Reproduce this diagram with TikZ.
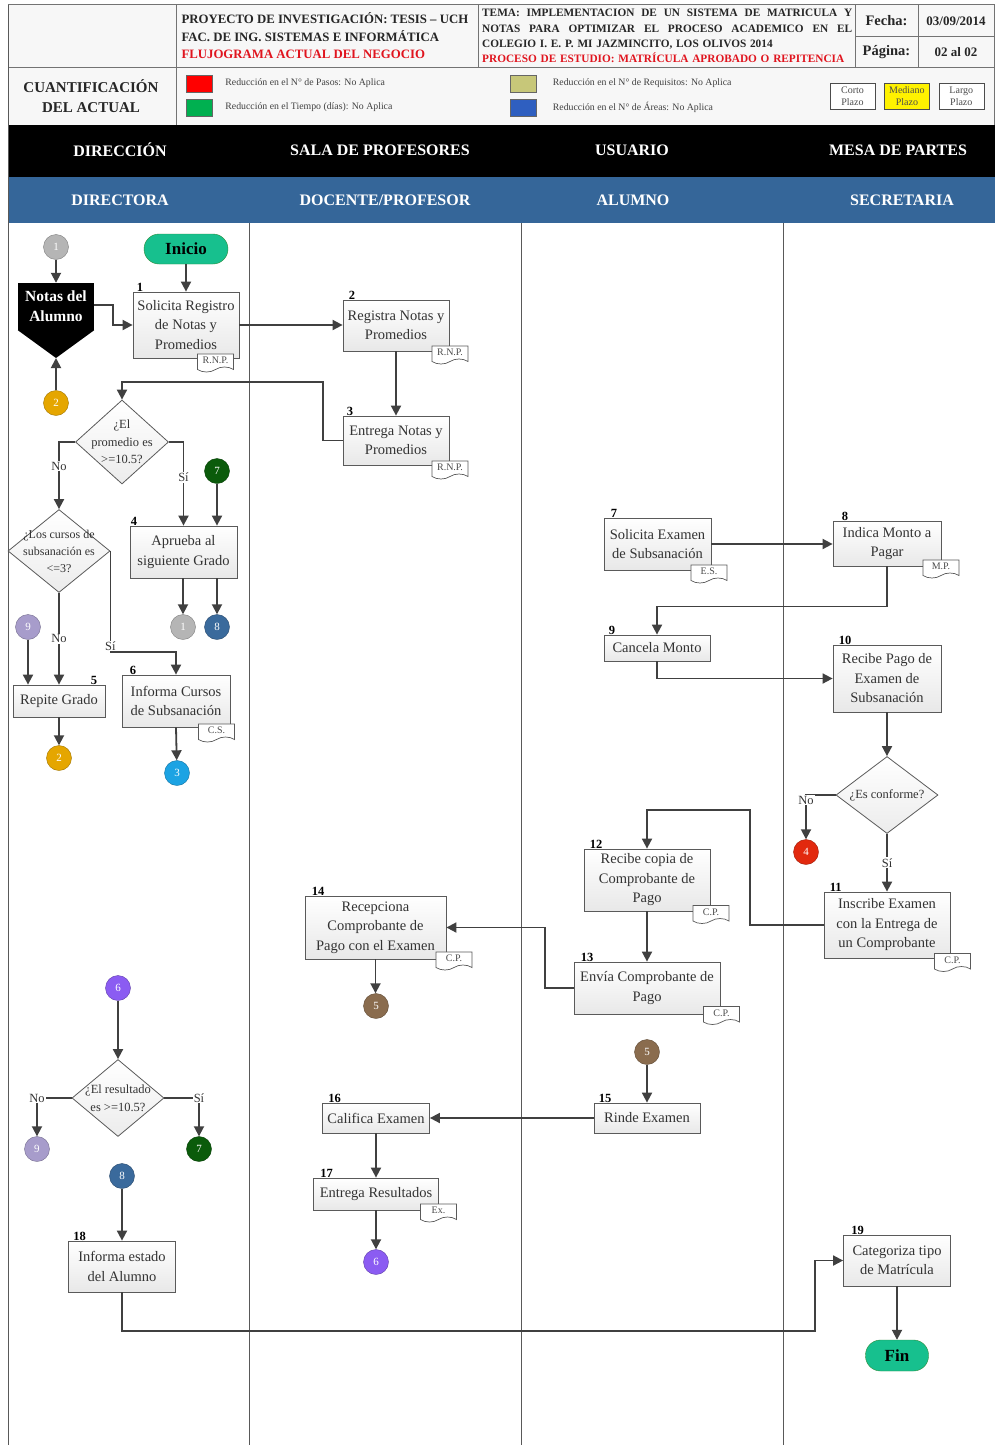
\documentclass[tikz,border=0pt]{standalone}
\usepackage{fontspec}
\setmainfont{Liberation Serif}
\usetikzlibrary{positioning,shapes.geometric,shapes.symbols,arrows.meta}

\definecolor{linegray}{HTML}{404040}
\definecolor{boxline}{HTML}{5A5A5A}
\definecolor{titlered}{HTML}{E0141E}
\definecolor{bandblue}{HTML}{356699}
\definecolor{termgreen}{HTML}{17C08E}
\definecolor{termline}{HTML}{2E8B3A}
\definecolor{kgray}{HTML}{B5B5B5}
\definecolor{korange}{HTML}{E5A600}
\definecolor{kcyan}{HTML}{1CA3E3}
\definecolor{kred}{HTML}{E2290E}
\definecolor{kbrown}{HTML}{8A6C4E}
\definecolor{kpurple}{HTML}{8B5CF2}
\definecolor{kgreen}{HTML}{0B5B0B}
\definecolor{kblue}{HTML}{3A6A9C}
\definecolor{klilac}{HTML}{A79CCB}
\definecolor{legred}{HTML}{FF0000}
\definecolor{leggreen}{HTML}{00B050}
\definecolor{legolive}{HTML}{C7C779}
\definecolor{legblue}{HTML}{2F5FC0}

\newcommand{\fsz}[2]{\fontsize{#1}{#2}\selectfont}
\newcommand{\jline}[1]{\makebox[370pt][s]{\spaceskip=0.3em plus 1fil\relax #1}}

\begin{document}
\begin{tikzpicture}[x=1pt, y=-1pt,
    >={Triangle[length=10pt, width=10pt]},
    proc/.style={rectangle, draw=boxline, line width=0.8pt, top color=white, bottom color=gray!18,
        align=center, inner sep=1pt, font=\fsz{14.5}{19.5}, text=black!80},
    dec/.style={diamond, draw=boxline, line width=0.8pt, top color=white, bottom color=gray!15,
        inner sep=0pt},
    dtext/.style={align=center, font=\fsz{12.5}{17.5}, text=black!80, inner sep=0pt},
    term/.style={rectangle, rounded corners=15pt, draw=termline, fill=termgreen, minimum height=30,
        font=\bfseries\fsz{17}{19}},
    conn/.style={circle, draw=#1!70!black, fill=#1, minimum size=25, inner sep=0pt,
        text=white, font=\fsz{11}{11}},
    doc/.style={tape, tape bend top=none, tape bend height=5pt, draw=boxline, line width=0.7pt,
        fill=white, minimum width=36, minimum height=18, inner sep=1pt, font=\fsz{10}{10},
        text=black!70},
    num/.style={font=\bfseries\fsz{12.5}{12.5}, inner sep=0pt},
    lbl/.style={fill=white, inner sep=1pt, font=\fsz{12.5}{13}, text=black!80},
    flow/.style={->, draw=linegray, line width=1.8pt},
    lane/.style={draw=black!65, line width=1pt},
    band/.style={text=white, font=\bfseries\fsz{16}{18}},
    hcell/.style={draw=black!55, line width=1pt},
    sq/.style={draw=black!60, minimum width=26, minimum height=17, inner sep=0pt},
    legtxt/.style={font=\fsz{9.8}{11}, text=black!75, inner sep=0pt},
    plazo/.style={draw=black!70, minimum width=45, minimum height=26, inner sep=0pt, align=center,
        font=\fsz{10}{12}, text=black!70}
]
\useasboundingbox (0,0) rectangle (995,1445);
\fill[white] (0,0) rectangle (995,1445);

% cabecera
\fill[gray!6] (8,5) rectangle (994,125);
\draw[hcell] (8,5) rectangle (994,125);
\draw[hcell] (8,68) -- (994,68);
\draw[hcell] (176,5) -- (176,125);
\draw[hcell] (478,5) -- (478,68);
\draw[hcell] (855,5) -- (855,68);
\draw[hcell] (918,5) -- (918,68);
\draw[hcell] (855,37) -- (994,37);

\node[anchor=west, align=left, font=\bfseries\fsz{12.8}{17.5}, text=black!85] (proj) at (178,36)
    {PROYECTO DE INVESTIGACIÓN: TESIS – UCH\\FAC. DE ING. SISTEMAS E INFORMÁTICA\\
     \textcolor{titlered}{FLUJOGRAMA ACTUAL DEL NEGOCIO}};
\node[anchor=west, text width=370pt, align=left, inner sep=0pt, font=\bfseries\fsz{11.3}{15.3},
    text=black!85] (tema) at (482,36)
    {\jline{TEMA: IMPLEMENTACION DE UN SISTEMA DE MATRICULA Y}\\
     \jline{NOTAS PARA OPTIMIZAR EL PROCESO ACADEMICO EN EL}\\
     COLEGIO I. E. P. MI JAZMINCITO, LOS OLIVOS 2014\\
     \textcolor{titlered}{PROCESO DE ESTUDIO: MATRÍCULA APROBADO O REPITENCIA}};
\node[font=\bfseries\fsz{14.5}{15}, text=black!85] (fecha) at (886.5,21) {Fecha:};
\node[font=\bfseries\fsz{13}{15}, text=black!85] (fechav) at (956,21) {03/09/2014};
\node[font=\bfseries\fsz{14.5}{15}, text=black!85] (pag) at (886.5,52) {Página:};
\node[font=\bfseries\fsz{13}{15}, text=black!85] (pagv) at (956,52) {02 al 02};
\node[align=center, font=\bfseries\fsz{15}{20}, text=black!85] (cuant) at (91,96)
    {CUANTIFICACIÓN\\DEL ACTUAL};

\node[sq, fill=legred] (sq1) at (199,83.5) {};
\node[sq, fill=leggreen] (sq2) at (199,107.5) {};
\node[sq, fill=legolive] (sq3) at (523.5,83.5) {};
\node[sq, fill=legblue] (sq4) at (523.5,107.5) {};
\node[legtxt, right=13pt of sq1] (lg1) {Reducción en el N° de Pasos: No Aplica};
\node[legtxt, right=13pt of sq2] (lg2) {Reducción en el Tiempo (días): No Aplica};
\node[legtxt, right=16pt of sq3] (lg3) {Reducción en el N° de Requisitos: No Aplica};
\node[legtxt, right=16pt of sq4] (lg4) {Reducción en el N° de Áreas: No Aplica};
\node[plazo, fill=white] (corto) at (852.5,96) {Corto\\Plazo};
\node[plazo, fill=yellow, right=9pt of corto] (mediano) {Mediano\\Plazo};
\node[plazo, fill=white, right=9pt of mediano] (largo) {Largo\\Plazo};

% carriles
\fill[black] (8,125) rectangle (995,177);
\fill[bandblue] (8,177) rectangle (995,223);
\node[band] (h1) at (120,150) {DIRECCIÓN};
\node[band] (h2) at (380,150) {SALA DE PROFESORES};
\node[band] (h3) at (632,150) {USUARIO};
\node[band] (h4) at (898,150) {MESA DE PARTES};
\node[band] (r1) at (120,200) {DIRECTORA};
\node[band] (r2) at (385,200) {DOCENTE/PROFESOR};
\node[band] (r3) at (633,200) {ALUMNO};
\node[band] (r4) at (902,200) {SECRETARIA};
\draw[lane] (8,5) -- (8,1445);
\draw[lane] (249,223) -- (249,1445);
\draw[lane] (521,223) -- (521,1445);
\draw[lane] (783,223) -- (783,1445);

% nodos
\node[term, minimum width=84] (inicio) at (186,249) {Inicio};
\node[conn=kgray] (c1a) at (56,247) {1};
\node[rectangle, fill=black, minimum width=76, minimum height=47, inner sep=0pt, align=center,
    text=white, font=\bfseries\fsz{15.5}{20}] (notas) at (56,306.5) {Notas del\\Alumno};
\coordinate (ntip) at (56,358);
\fill[black] (notas.south west) -- (ntip) -- (notas.south east) -- cycle;
\node[conn=korange] (c2a) at (56,403) {2};

\node[proc, minimum width=106, minimum height=66] (p1) at (186,325) {Solicita Registro\\de Notas y\\Promedios};
\node[proc, minimum width=106, minimum height=51] (p2) at (396,325.5) {Registra Notas y\\Promedios};
\node[proc, minimum width=106, minimum height=49] (p3) at (396,440.5) {Entrega Notas y\\Promedios};
\node[proc, minimum width=107, minimum height=52] (p4) at (183.5,552) {Aprueba al\\siguiente Grado};
\node[proc, minimum width=92, minimum height=32] (p5) at (59,701) {Repite Grado};
\node[proc, minimum width=108, minimum height=52] (p6) at (176,701) {Informa Cursos\\de Subsanación};
\node[proc, minimum width=107, minimum height=52] (p7) at (657.5,544) {Solicita Examen\\de Subsanación};
\node[proc, minimum width=108, minimum height=45] (p8) at (887,543.5) {Indica Monto a\\Pagar};
\node[proc, minimum width=106, minimum height=26] (p9) at (657,648) {Cancela Monto};
\node[proc, minimum width=108, minimum height=67] (p10) at (887,678.5) {Recibe Pago de\\Examen de\\Subsanación};
\node[proc, minimum width=126, minimum height=66] (p11) at (887,925) {Inscribe Examen\\con la Entrega de\\un Comprobante};
\node[proc, minimum width=126, minimum height=62] (p12) at (647,880) {Recibe copia de\\Comprobante de\\Pago};
\node[proc, minimum width=146, minimum height=52] (p13) at (647,988) {Envía Comprobante de\\Pago};
\node[proc, minimum width=141, minimum height=63] (p14) at (375.5,927.5) {Recepciona\\Comprobante de\\Pago con el Examen};
\node[proc, minimum width=106, minimum height=30] (p15) at (647,1118) {Rinde Examen};
\node[proc, minimum width=107, minimum height=30] (p16) at (376,1118) {Califica Examen};
\node[proc, minimum width=125, minimum height=32] (p17) at (376,1194) {Entrega Resultados};
\node[proc, minimum width=107, minimum height=51] (p18) at (122,1266.5) {Informa estado\\del Alumno};
\node[proc, minimum width=107, minimum height=51] (p19) at (897,1260.5) {Categoriza tipo\\de Matrícula};
\node[term, minimum width=63, minimum height=31] (fin) at (897,1355.5) {Fin};

\node[num, above right=0pt and 4pt of p1.north west] (n1) {1};
\node[num, above right=0pt and 6pt of p2.north west] (n2) {2};
\node[num, above right=0pt and 4pt of p3.north west] (n3) {3};
\node[num, above right=0pt and 1pt of p4.north west] (n4) {4};
\node[num, above left=0pt and 8pt of p5.north east] (n5) {5};
\node[num, above right=0pt and 8pt of p6.north west] (n6) {6};
\node[num, above right=0pt and 7pt of p7.north west] (n7) {7};
\node[num, above right=0pt and 9pt of p8.north west] (n8) {8};
\node[num, above right=0pt and 5pt of p9.north west] (n9) {9};
\node[num, above right=0pt and 6pt of p10.north west] (n10) {10};
\node[num, above right=0pt and 6pt of p11.north west] (n11) {11};
\node[num, above right=0pt and 6pt of p12.north west] (n12) {12};
\node[num, above right=0pt and 7pt of p13.north west] (n13) {13};
\node[num, above right=0pt and 7pt of p14.north west] (n14) {14};
\node[num, above right=0pt and 5pt of p15.north west] (n15) {15};
\node[num, above right=0pt and 6pt of p16.north west] (n16) {16};
\node[num, above right=0pt and 7pt of p17.north west] (n17) {17};
\node[num, above right=0pt and 5pt of p18.north west] (n18) {18};
\node[num, above right=0pt and 8pt of p19.north west] (n19) {19};

\node[doc] (t1) at (215.5,360.5) {R.N.P.};
\node[doc] (t2) at (450,352.5) {R.N.P.};
\node[doc] (t3) at (450,467.5) {R.N.P.};
\node[doc] (t6) at (216.5,730.5) {C.S.};
\node[doc] (t7) at (709,571.5) {E.S.};
\node[doc] (t8) at (941,566.5) {M.P.};
\node[doc] (t11) at (952.5,960) {C.P.};
\node[doc] (t12) at (711,912) {C.P.};
\node[doc] (t13) at (721.5,1013) {C.P.};
\node[doc] (t14) at (454,958.5) {C.P.};
\node[doc] (t17) at (438.5,1210.5) {Ex.};

\node[dec, minimum width=93, minimum height=84] (d1) at (122,442) {};
\node[dtext] (d1t) at (d1) {¿El\\promedio es\\>=10.5?};
\node[dec, minimum width=102, minimum height=83] (d2) at (59,551) {};
\node[dtext, font=\fsz{12}{17}] (d2t) at (d2) {¿Los cursos de\\subsanación es\\<=3?};
\node[dec, minimum width=102, minimum height=77] (d3) at (887,795) {};
\node[dtext] (d3t) at (d3) {¿Es conforme?};
\node[dec, minimum width=92, minimum height=77] (d4) at (118,1098) {};
\node[dtext] (d4t) at (d4) {¿El resultado\\es >=10.5?};

\node[conn=kgreen] (c7a) at (217,471) {7};
\node[conn=kgray] (c1b) at (183,627) {1};
\node[conn=kblue] (c8a) at (217,627) {8};
\node[conn=klilac] (c9a) at (28,627) {9};
\node[conn=korange] (c2b) at (59,758) {2};
\node[conn=kcyan] (c3a) at (177,773) {3};
\node[conn=kred] (c4a) at (806,852) {4};
\node[conn=kbrown] (c5a) at (376,1006) {5};
\node[conn=kbrown] (c5b) at (647,1052) {5};
\node[conn=kpurple] (c6a) at (118,988) {6};
\node[conn=kpurple] (c6b) at (376,1262) {6};
\node[conn=klilac] (c9b) at (37,1149) {9};
\node[conn=kgreen] (c7b) at (199,1149) {7};
\node[conn=kblue] (c8b) at (122,1176) {8};

% conectores
\draw[flow] (c1a) -- (notas.north);
\draw[flow] (c2a) -- (ntip);
\draw[flow] ([yshift=1.5pt]notas.east) -- ++(19,0) |- (p1.west);
\draw[flow] (inicio) -- (p1.north);
\draw[flow] (p1.east) -- (p1.east -| p2.west);
\draw[flow] (p2.south) -- (p3.north);
\draw[flow] (p3.west) -- ++(-20,0) |- (d1.north |- 0,382) -- (d1.north);
\draw[flow] (d1.west) -| node[lbl, pos=0.68] (no1) {No} (d2.north);
\draw[flow] (d1.east) -| node[lbl, pos=0.71] (si1) {Sí} (p4.north);
\draw[flow] (c7a) -- (c7a |- p4.north);
\draw[flow] (c1b |- p4.south) -- (c1b);
\draw[flow] (c8a |- p4.south) -- (c8a);
\draw[flow] (d2.south) -- node[lbl, pos=0.5] (no2) {No} (p5.north);
\draw[flow] (d2.east) |- node[lbl, pos=0.47] (si2) {Sí} (150,652) -| (p6.north);
\draw[flow] (c9a) -- (c9a |- p5.north);
\draw[flow] (p5.south) -- (c2b);
\draw[flow] (p6.south) -- (c3a);
\draw[flow] (p7.east) -- (p7.east -| p8.west);
\draw[flow] (p8.south) -- ++(0,40) -| (p9.north);
\draw[flow] (p9.south) |- (p10.west);
\draw[flow] (p10.south) -- (d3.north);
\draw[flow] (d3.west) -| node[lbl, pos=0.56] (no3) {No} (c4a.north);
\draw[flow] (d3.south) -- node[lbl, pos=0.5] (si3) {Sí} (p11.north);
\draw[flow] (p11.west) -| (750,810) -| (p12.north);
\draw[flow] (p12.south) -- (p13.north);
\draw[flow] (p13.west) -- ++(-29,0) |- (p14.east);
\draw[flow] (p14.south) -- (p14.south |- c5a.north);
\draw[flow] (c5b) -- (p15.north);
\draw[flow] (p15.west) -- (p16.east);
\draw[flow] (p16.south) -- (p17.north);
\draw[flow] (p17.south) -- (c6b);
\draw[flow] (c6a) -- (d4.north);
\draw[flow] (d4.west) -| node[lbl, pos=0.5] (no4) {No} (c9b.north);
\draw[flow] (d4.east) -| node[lbl, pos=0.5] (si4) {Sí} (c7b.north);
\draw[flow] (c8b) -- (p18.north);
\draw[flow] (p18.south) |- (815,1331) |- (p19.west);
\draw[flow] (p19.south) -- (fin.north);

\end{tikzpicture}
\end{document}
